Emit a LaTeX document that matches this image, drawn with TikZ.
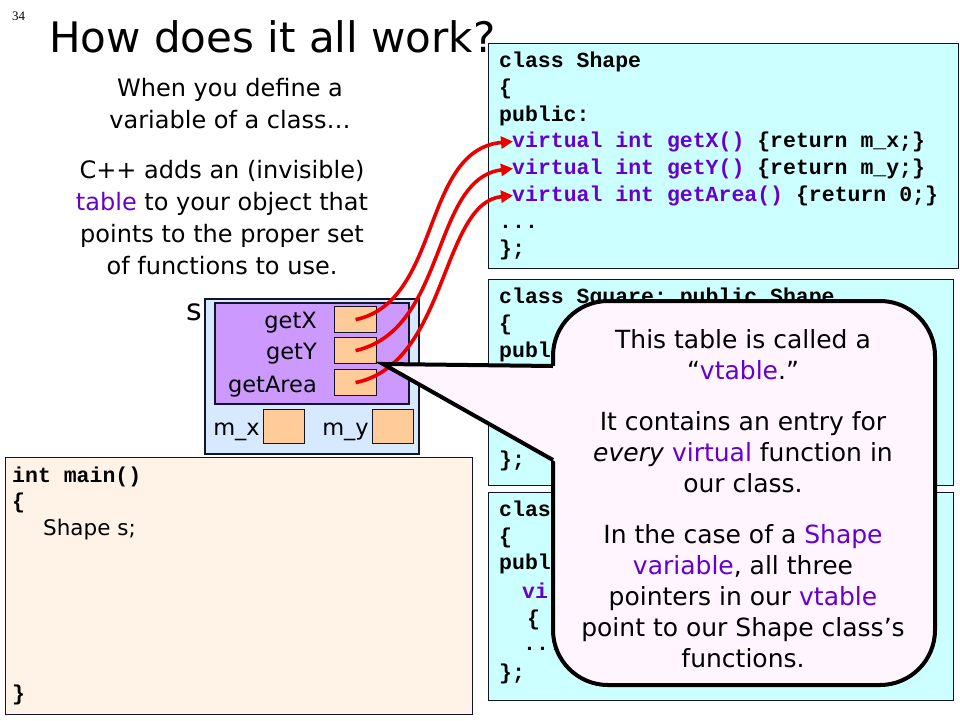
\documentclass[tikz,border=0pt]{standalone}
\usepackage{fontspec}
\setmainfont{DejaVu Sans}
\setmonofont{Liberation Mono}
\newfontfamily\numfont{Liberation Serif}
\usetikzlibrary{arrows.meta}
\definecolor{cyanbg}{RGB}{204,255,255}
\definecolor{objbg}{RGB}{214,233,255}
\definecolor{tblbg}{RGB}{204,153,255}
\definecolor{slotbg}{RGB}{255,204,153}
\definecolor{mainbg}{RGB}{255,243,232}
\definecolor{callbg}{RGB}{255,245,255}
\definecolor{kw}{RGB}{102,0,204}
\definecolor{arrowred}{RGB}{235,0,0}
\definecolor{edge}{RGB}{20,20,40}
\tikzset{
  code/.style={anchor=base west, inner sep=0pt, font=\fontsize{21.5}{24}\selectfont\ttfamily\bfseries},
  body/.style={align=center, inner sep=0pt, font=\fontsize{24}{32}\selectfont},
  callbody/.style={align=center, inner sep=0pt, font=\fontsize{25}{31}\selectfont},
  codebox/.style={draw=edge, line width=1pt, fill=cyanbg, anchor=north west, inner sep=0pt},
  slot/.style={draw=edge, line width=1.2pt, fill=slotbg, anchor=north west, inner sep=0pt},
  lbl/.style={anchor=base east, inner sep=0pt, font=\fontsize{22.5}{26}\selectfont},
  redarrow/.style={draw=arrowred, line width=3.6pt, -{Triangle[length=12pt,width=12pt]}},
}
\begin{document}
\begin{tikzpicture}[x=1pt,y=-1pt]
\useasboundingbox (0,0) rectangle (960,720);
\fill[white] (0,0) rectangle (960,720);

% slide number and title
\node[anchor=base west, inner sep=0pt, font=\fontsize{13}{14}\selectfont\numfont] (num) at (12,20) {34};
\node[anchor=base west, inner sep=0pt, font=\fontsize{42}{48}\selectfont] (title) at (49,52) {How does it all work?};

% left explanatory text
\node[body] (intro1) at (230,104) {When you define a\\variable of a class…};
\node[body] (intro2) at (222,218) {C++ adds an (invisible)\\\textcolor{kw}{table} to your object that\\points to the proper set\\of functions to use.};

% class Shape box
\node[codebox, minimum width=470, minimum height=225] (shapebox) at (488,43) {};
\node[code] (c1) at (499,67) {class Shape};
\node[code] (c2) at (499,94) {\{};
\node[code] (c3) at (499,121) {public:};
\node[code] (c4) at (512,147) {\textcolor{kw}{virtual int getX()} \{return m\_x;\}};
\node[code] (c5) at (512,174) {\textcolor{kw}{virtual int getY()} \{return m\_y;\}};
\node[code] (c6) at (512,201) {\textcolor{kw}{virtual int getArea()} \{return 0;\}};
\node[code] (c7) at (499,228) {...};
\node[code] (c8) at (499,255) {\};};

% class Square box
\node[codebox, minimum width=465, minimum height=206] (squarebox) at (488,279) {};
\node[code] (s1) at (499,303) {class Square: public Shape};
\node[code] (s2) at (499,330) {\{};
\node[code] (s3) at (499,357) {publ};
\node[code] (s4) at (499,466) {\};};

% third class box
\node[codebox, minimum width=465, minimum height=208] (thirdbox) at (488,492) {};
\node[code] (t1) at (499,516) {clas};
\node[code] (t2) at (499,543) {\{};
\node[code] (t3) at (499,569) {publ};
\node[code] (t4) at (522,598) {\textcolor{kw}{vi}};
\node[code] (t5) at (527,625) {\{};
\node[code] (t6) at (523,650) {...};
\node[code] (t7) at (499,679) {\};};

% main() box
\node[draw=edge, line width=1pt, fill=mainbg, anchor=north west, inner sep=0pt,
      minimum width=467, minimum height=257] (mainbox) at (5,457) {};
\node[code] (m1) at (12,482) {int main()};
\node[code] (m2) at (12,508) {\{};
\node[anchor=base west, inner sep=0pt, font=\fontsize{21.5}{24}\selectfont] (m3) at (43,535) {Shape s;};
\node[code] (m4) at (12,700) {\}};

% object s
\node[anchor=base west, inner sep=0pt, font=\fontsize{30}{32}\selectfont] (slabel) at (186,320) {s};
\node[draw=edge, line width=1.5pt, fill=objbg, anchor=north west, inner sep=0pt,
      minimum width=214, minimum height=155] (obj) at (204,298) {};
\node[draw=edge, line width=1.5pt, fill=tblbg, anchor=north west, inner sep=0pt,
      minimum width=194, minimum height=101] (vtbl) at (214,302) {};
\node[slot, minimum width=42, minimum height=26] (o1) at (334,306) {};
\node[slot, minimum width=42, minimum height=26] (o2) at (334,337) {};
\node[slot, minimum width=42, minimum height=26] (o3) at (334,369) {};
\node[lbl] (l1) at (317,328) {getX};
\node[lbl] (l2) at (317,359) {getY};
\node[lbl] (l3) at (317,392) {getArea};
\node[slot, minimum width=41, minimum height=34] (mx) at (263,409) {};
\node[slot, minimum width=41, minimum height=34] (my) at (372,409) {};
\node[lbl] (lmx) at (260,435) {m\_x};
\node[lbl] (lmy) at (369,435) {m\_y};

% red pointer arrows
\draw[redarrow] (o1.center) .. controls +(86,-18) and +(-92,8) .. ([xshift=1pt]c4.west);
\draw[redarrow] (o2.center) .. controls +(92,-21) and +(-82,10) .. ([xshift=1pt]c5.west);
\draw[redarrow] (o3.center) .. controls +(92,-19) and +(-72,7) .. ([xshift=1pt]c6.west);

% callout
\coordinate (tip) at (383,364);
\draw[fill=callbg, line width=4pt, rounded corners=55pt] (553,301) rectangle (935,685);
\fill[callbg] (tip) -- (558,366) -- (558,463) -- cycle;
\draw[line width=4pt, line join=miter] (553,366) -- (tip) -- (553,460);
\node[callbody] (p1) at (743,355) {This table is called a\\“\textcolor{kw}{vtable}.”};
\node[callbody] (p2) at (743,452) {It contains an entry for\\\textit{every} \textcolor{kw}{virtual} function in\\our class.};
\node[callbody] (p3) at (743,596) {In the case of a \textcolor{kw}{Shape}\\\textcolor{kw}{variable}, all three\\pointers in our \textcolor{kw}{vtable}\\point to our Shape class’s\\functions.};
\end{tikzpicture}
\end{document}
